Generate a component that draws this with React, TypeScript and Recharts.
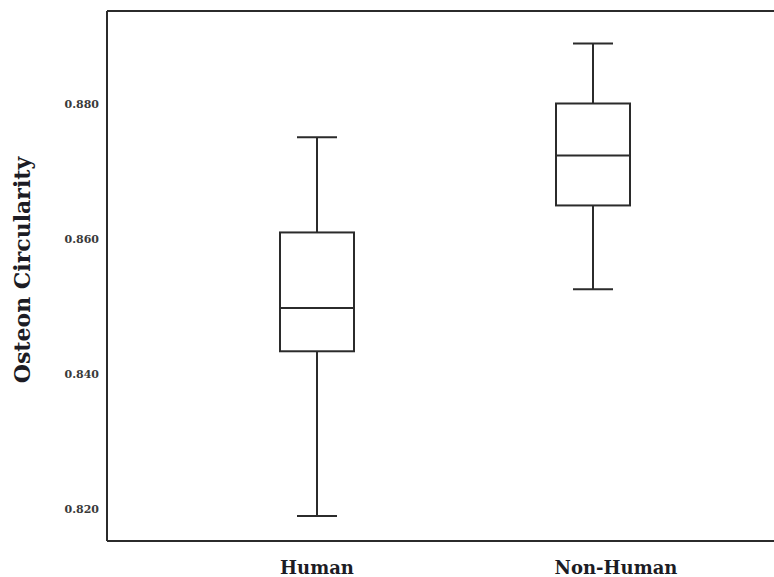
import React from 'react';
import {
  ComposedChart,
  Bar,
  XAxis,
  YAxis,
  ReferenceLine,
} from 'recharts';

// Box plot values
const categories = ['Human', 'Non-Human'];
const whiskerLow = [0.819, 0.8526];
const q1 = [0.8434, 0.865];
const median = [0.8498, 0.8724];
const q3 = [0.861, 0.8801];
const whiskerHigh = [0.8751, 0.889];

const yTicks = [0.82, 0.84, 0.86, 0.88];
const Y_MIN = 0.8153;
const Y_MAX = 0.8938;

const INK = '#2b2b2b';
const SERIF = '"DejaVu Serif", "Liberation Serif", serif';

const data = categories.map((name, i) => ({
  name,
  box: [q1[i], q3[i]],
  low: whiskerLow[i],
  q1: q1[i],
  med: median[i],
  q3: q3[i],
  high: whiskerHigh[i],
}));

// Draws the whole box + whiskers from the bar's own geometry (y = q3, y+height = q1)
function BoxShape(props: any) {
  const { x, y, width, height, payload } = props;
  if (payload == null || height == null) return null;
  const px = (v: number) => y + ((payload.q3 - v) * height) / (payload.q3 - payload.q1);
  const cx = x + width / 2;
  const cap = 20;
  const sw = 2;
  return (
    <g stroke={INK} strokeWidth={sw} fill="none">
      <line x1={cx} x2={cx} y1={px(payload.high)} y2={y} />
      <line x1={cx - cap} x2={cx + cap} y1={px(payload.high)} y2={px(payload.high)} />
      <line x1={cx} x2={cx} y1={y + height} y2={px(payload.low)} />
      <line x1={cx - cap} x2={cx + cap} y1={px(payload.low)} y2={px(payload.low)} />
      <rect x={x} y={y} width={width} height={height} fill="#fff" />
      <line x1={x} x2={x + width} y1={px(payload.med)} y2={px(payload.med)} />
    </g>
  );
}

function CategoryTick(props: any) {
  const { x, y, payload } = props;
  // the second label sits a little right of its box in the original
  const shift = payload.value === 'Non-Human' ? 23 : 0;
  return (
    <text
      x={x + shift}
      y={y + 25}
      textAnchor="middle"
      fontFamily={SERIF}
      fontWeight={700}
      fontSize={18}
      fill="#1c1c24"
    >
      {payload.value}
    </text>
  );
}

export default function App() {
  return (
    <div style={{ position: 'absolute', left: 0, top: 0, background: '#fff' }}>
      <ComposedChart
        width={774}
        height={577}
        data={data}
        margin={{ top: 11, right: 0, bottom: 0, left: 0 }}
      >
        <XAxis
          dataKey="name"
          type="category"
          height={36}
          padding={{ left: 72, right: 43 }}
          axisLine={{ stroke: INK, strokeWidth: 2 }}
          tickLine={false}
          tick={<CategoryTick />}
          interval={0}
        />
        <YAxis
          type="number"
          domain={[Y_MIN, Y_MAX]}
          ticks={yTicks}
          width={107}
          allowDataOverflow
          tickFormatter={(v: number) => v.toFixed(3)}
          axisLine={{ stroke: INK, strokeWidth: 2 }}
          tickLine={false}
          tick={{ fontSize: 11, fontWeight: 700, fontFamily: SERIF, fill: '#3a3a3a' }}
          label={{
            value: 'Osteon Circularity',
            angle: -90,
            position: 'insideLeft',
            offset: 22,
            dy: -6,
            style: {
              fontFamily: SERIF,
              fontWeight: 700,
              fontSize: 22,
              fill: '#1c1c24',
              textAnchor: 'middle',
            },
          }}
        />
        <ReferenceLine y={Y_MAX} stroke={INK} strokeWidth={2} ifOverflow="extendDomain" />
        <Bar dataKey="box" barSize={74} shape={<BoxShape />} isAnimationActive={false} />
      </ComposedChart>
    </div>
  );
}
